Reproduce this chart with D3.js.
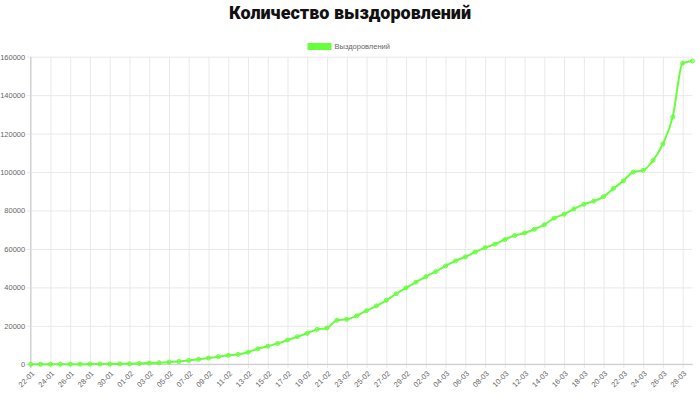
<!DOCTYPE html>
<html>
<head>
<meta charset="utf-8">
<script src="https://cdn.jsdelivr.net/npm/d3@7"></script>
<style>
  body { margin: 0; background: #fff; }
  svg { display: block; }
</style>
</head>
<body>
<svg id="chart" width="700" height="403"></svg>
<script>
'use strict';

var TITLE = 'Количество выздоровлений';
var SERIES_NAME = 'Выздоровлений';

var dates = [
    '22-01', '23-01', '24-01', '25-01', '26-01', '27-01', '28-01', '29-01', '30-01', '31-01',
    '01-02', '02-02', '03-02', '04-02', '05-02', '06-02', '07-02', '08-02', '09-02', '10-02',
    '11-02', '12-02', '13-02', '14-02', '15-02', '16-02', '17-02', '18-02', '19-02', '20-02',
    '21-02', '22-02', '23-02', '24-02', '25-02', '26-02', '27-02', '28-02', '29-02',
    '01-03', '02-03', '03-03', '04-03', '05-03', '06-03', '07-03', '08-03', '09-03', '10-03',
    '11-03', '12-03', '13-03', '14-03', '15-03', '16-03', '17-03', '18-03', '19-03', '20-03',
    '21-03', '22-03', '23-03', '24-03', '25-03', '26-03', '27-03', '28-03', '29-03'
];

var recovered = [
    28, 30, 36, 39, 52, 61, 107, 126, 143, 222,
    284, 472, 623, 852, 1124, 1487, 2011, 2616, 3244, 3946,
    4683, 5150, 6295, 8058, 9395, 10865, 12583, 14352, 16121, 18177,
    18890, 22886, 23394, 25227, 27905, 30384, 33277, 36711, 39782,
    42716, 45602, 48228, 51170, 53796, 55865, 58358, 60694, 62494, 64900,
    67003, 68324, 70251, 72624, 76034, 78088, 80840, 83207, 84854, 87256,
    91499, 95400, 100000, 100900, 106000, 114600, 128700, 156600, 157800
];

var yTicks = [0, 20000, 40000, 60000, 80000, 100000, 120000, 140000, 160000];

var GREEN = '#66ff3c';
var GRID = '#e9e9e9';
var AXIS = '#cfcfcf';
var TEXT = '#666';

$ready();

function $ready() {
    var svg = d3.select('#chart');
    var left = 30.7, right = 692.5, top = 56.7, bottom = 364.3;

    var x = d3.scalePoint().domain(dates).range([left, right]);
    var y = d3.scaleLinear().domain([0, 160000]).range([bottom, top]);

    // title
    svg.append('text')
        .attr('x', 350)
        .attr('y', 18.5)
        .attr('text-anchor', 'middle')
        .style('font-family', 'Roboto, "Liberation Sans", sans-serif')
        .style('font-weight', 900)
        .style('font-size', '18px')
        .style('fill', '#111')
        .text(TITLE);

    // legend
    svg.append('rect')
        .attr('x', 307.5).attr('y', 43)
        .attr('width', 24).attr('height', 7)
        .attr('fill', GREEN);
    svg.append('text')
        .attr('x', 334.5).attr('y', 46.5)
        .attr('dy', '0.35em')
        .style('font-family', '"Liberation Sans", Arial, sans-serif')
        .style('font-size', '7.5px')
        .style('fill', TEXT)
        .text(SERIES_NAME);

    // horizontal grid
    var yAxis = d3.axisLeft(y)
        .tickValues(yTicks)
        .tickSize(-(right - left))
        .tickFormat(d3.format('d'))
        .tickPadding(6);
    var gy = svg.append('g')
        .attr('transform', 'translate(' + left + ',0)')
        .call(yAxis);
    gy.select('.domain').remove();
    gy.selectAll('.tick line')
        .attr('x1', -4)
        .attr('stroke', GRID);
    gy.selectAll('.tick text')
        .attr('x', -5.5)
        .style('font-family', '"Liberation Sans", Arial, sans-serif')
        .style('font-size', '7.5px')
        .style('fill', TEXT);

    // vertical grid every 2 days
    var labelled = dates.filter(function(d, i) { return i % 2 === 0; });
    var xAxis = d3.axisBottom(x)
        .tickValues(labelled)
        .tickSize(-(bottom - top))
        .tickPadding(0);
    var gx = svg.append('g')
        .attr('transform', 'translate(0,' + bottom + ')')
        .call(xAxis);
    gx.select('.domain').remove();
    gx.selectAll('.tick line')
        .attr('y1', 4)
        .attr('stroke', GRID);
    gx.selectAll('.tick text')
        .attr('text-anchor', 'end')
        .attr('transform', 'translate(2,8) rotate(-45)')
        .attr('y', 0)
        .attr('dy', '0.35em')
        .style('font-family', '"Liberation Sans", Arial, sans-serif')
        .style('font-size', '7.5px')
        .style('fill', TEXT);

    // axis lines
    svg.append('line')
        .attr('x1', left).attr('x2', left)
        .attr('y1', top).attr('y2', bottom + 4)
        .attr('stroke', AXIS).attr('stroke-width', 1.2);
    svg.append('line')
        .attr('x1', left - 4).attr('x2', right)
        .attr('y1', bottom).attr('y2', bottom)
        .attr('stroke', AXIS).attr('stroke-width', 1.2);

    // line
    var line = d3.line()
        .x(function(d, i) { return x(dates[i]); })
        .y(function(d) { return y(d); })
        .curve(d3.curveMonotoneX);

    svg.append('path')
        .datum(recovered)
        .attr('d', line)
        .attr('fill', 'none')
        .attr('stroke', GREEN)
        .attr('stroke-width', 2);

    svg.selectAll('circle.pt')
        .data(recovered)
        .enter().append('circle')
        .attr('class', 'pt')
        .attr('cx', function(d, i) { return x(dates[i]); })
        .attr('cy', function(d) { return y(d); })
        .attr('r', 2)
        .attr('fill', 'rgba(102,255,60,0.45)')
        .attr('stroke', GREEN)
        .attr('stroke-width', 1);
}
</script>
</body>
</html>
